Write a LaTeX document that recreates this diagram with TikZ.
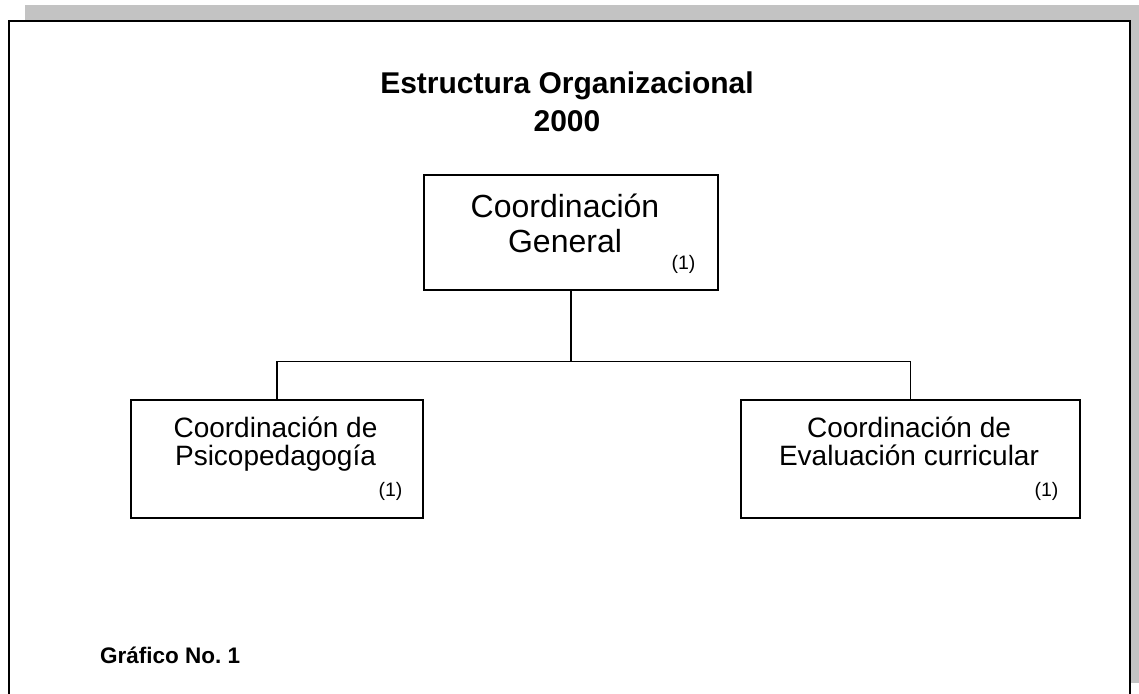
\documentclass[tikz,border=0pt]{standalone}
\usepackage{fontspec}
\setmainfont{Liberation Sans}
\frenchspacing
\usetikzlibrary{positioning,calc}
\definecolor{dropgray}{HTML}{C3C3C3}
\tikzset{
  orgbox/.style={draw=black, line width=1.3pt, fill=white, rectangle, inner sep=0pt},
  toptext/.style={align=center, inner sep=0pt, font=\fontsize{32}{35}\selectfont},
  subtext/.style={align=center, inner sep=0pt, font=\fontsize{28}{28}\selectfont},
  notenode/.style={inner sep=0pt, font=\fontsize{19.5}{19.5}\selectfont},
  titlenode/.style={align=center, inner sep=0pt, font=\fontsize{30}{38}\selectfont\bfseries},
  linkline/.style={draw=black, line width=1.3pt}
}

\begin{document}
\begin{tikzpicture}[x=1pt, y=-1pt]
  \useasboundingbox (0,0) rectangle (1139,693);
  \clip (0,0) rectangle (1139,693);
  % page frame with its shadow
  \fill[dropgray] (25,5) rectangle (1150,683);
  \draw[fill=white, line width=2.4pt] (9,21) rectangle (1130,705);
  \node[titlenode] (title) at (567,102) {Estructura Organizacional\\2000};
  % boxes
  \node[orgbox, minimum width=294pt, minimum height=115pt] (general) at (571,232.5) {};
  \node[toptext] (generaltxt) at (565,223) {Coordinación\\General};
  \node[notenode, above left=17pt and 23pt of general.south east, anchor=south east] (generalnote) {(1)};
  \node[orgbox, minimum width=292pt, minimum height=118pt] (psico) at (277,459) {};
  \node[subtext] (psicotxt) at (275.5,444) {Coordinación de\\Psicopedagogía};
  \node[notenode, above left=18pt and 21pt of psico.south east, anchor=south east] (psiconote) {(1)};
  \node[orgbox, minimum width=339pt, minimum height=118pt] (evalu) at (910.5,459) {};
  \node[subtext] (evalutxt) at (909,441) {Coordinación de\\Evaluación curricular};
  \node[notenode, above left=18pt and 22pt of evalu.south east, anchor=south east] (evalunote) {(1)};
  % connectors
  \coordinate (branch) at ($(general.south)+(0,71)$);
  \draw[linkline] (general.south) -- (branch);
  \draw[linkline] (branch) -| (psico.north);
  \draw[linkline] (branch) -| (evalu.north);
  \node[anchor=base west, inner sep=0pt, font=\fontsize{22.5}{22.5}\selectfont\bfseries] (grafico) at (100,663) {Gráfico No. 1};
\end{tikzpicture}
\end{document}
